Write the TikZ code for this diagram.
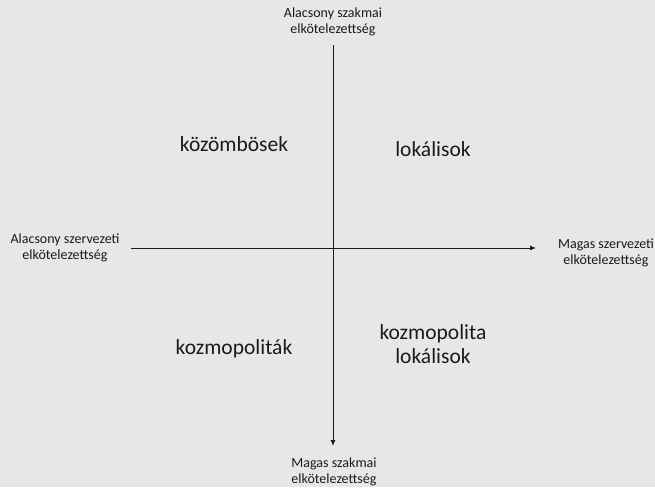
\documentclass[tikz,border=0pt]{standalone}
\usepackage{fontspec}
\setmainfont{Carlito}
\usetikzlibrary{arrows.meta}
\definecolor{bg}{HTML}{E7E7E7}
\definecolor{ink}{HTML}{1A1A1A}
\begin{document}
\begin{tikzpicture}[x=1pt,y=-1pt,
  axis/.style={draw=ink,line width=0.9pt,-{Latex[length=6pt,width=5pt]}},
  small/.style={font=\fontsize{14}{16.5}\selectfont,align=center,text=ink,inner sep=0pt},
  big/.style={font=\fontsize{21.5}{24}\selectfont,align=center,text=ink,inner sep=0pt}]
\fill[bg] (0,0) rectangle (655,487);
\useasboundingbox (0,0) rectangle (655,487);
% axis end points
\coordinate (top) at (333,45);
\coordinate (bottom) at (333,446);
\coordinate (left) at (130.5,248);
\coordinate (right) at (536,248);
\draw[axis] (top) -- (bottom);
\draw[axis] (left) -- (right);
% axis labels
\node[small] (ltop) at (333,22) {Alacsony szakmai\\elkötelezettség};
\node[small] (lleft) at (65,248) {Alacsony szervezeti\\elkötelezettség};
\node[small] (lright) at (606,253) {Magas szervezeti\\elkötelezettség};
\node[small] (lbottom) at (334,472) {Magas szakmai\\elkötelezettség};
% quadrant labels
\node[big,anchor=base] (q1) at (234,151.7) {közömbösek};
\node[big,anchor=base] (q2) at (433,156.7) {lokálisok};
\node[big,anchor=base] (q3) at (234,354) {kozmopoliták};
\node[big] (q4) at (433,344) {kozmopolita\\lokálisok};
\end{tikzpicture}
\end{document}
